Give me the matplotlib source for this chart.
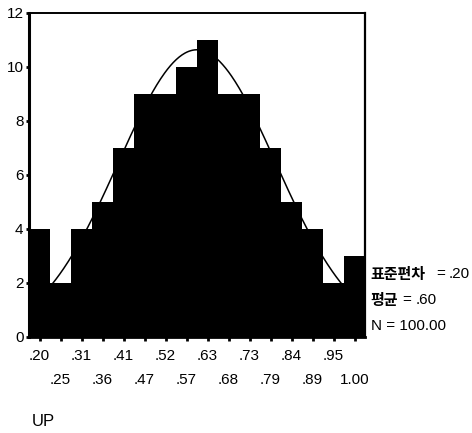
import numpy as np
import matplotlib
matplotlib.use("Agg")
import matplotlib.pyplot as plt

# Data
bin_labels = ['.20', '.25', '.31', '.36', '.41', '.47', '.52', '.57',
              '.63', '.68', '.73', '.79', '.84', '.89', '.95', '1.00']
counts = [4, 2, 4, 5, 7, 9, 9, 10, 11, 9, 9, 7, 5, 4, 2, 3]
x_min, x_max = 0.20, 1.00
mean_val, sd_val, n_val = 0.60, 0.20, 100
y_ticks = [0, 2, 4, 6, 8, 10, 12]
stat_korean = ['표준편차', '평균']
stat_values = ['.20', '.60']
n_text = 'N = 100.00'
x_label = 'UP'

latin = ['Liberation Sans', 'DejaVu Sans']
korean = ['Noto Sans CJK KR', 'DejaVu Sans']
plt.rcParams['font.family'] = latin

nb = len(counts)
width = (x_max - x_min) / (nb - 1)
centers = np.linspace(x_min, x_max, nb)

fig = plt.figure(figsize=(4.72, 4.33), dpi=100)
ax = fig.add_axes([29/472, 1-337/433, (365-29)/472, (337-13)/433])

ax.bar(centers, counts, width=width, color='black', edgecolor='none', linewidth=0, zorder=2)

xc = np.linspace(0.232, 0.968, 300)
yc = n_val * width / (sd_val * np.sqrt(2*np.pi)) * np.exp(-0.5*((xc-mean_val)/sd_val)**2)
ax.plot(xc, yc, color='black', lw=1.1, zorder=3)

ax.set_xlim(x_min - width/2, x_max + width/2)
ax.set_ylim(0, 12)

fs = 11
ax.set_xticks(centers[::2])
ax.set_xticklabels(bin_labels[::2], fontsize=fs)
ax.set_xticks(centers[1::2], minor=True)
ax.set_xticklabels(bin_labels[1::2], minor=True, fontsize=fs)
ax.tick_params(axis='x', which='major', direction='out', length=3, width=2, pad=5.5)
ax.tick_params(axis='x', which='minor', direction='out', length=3, width=2, pad=22.8)
ax.set_yticks(y_ticks)
ax.set_yticklabels([str(v) for v in y_ticks], fontsize=fs)
ax.tick_params(axis='y', direction='out', length=2, width=2, pad=2)

ax.spines['left'].set_linewidth(2.2)
ax.spines['bottom'].set_linewidth(2.0)
ax.spines['top'].set_linewidth(1.4)
ax.spines['right'].set_linewidth(1.6)

W, H = 472, 433
def px(x, y):
    return x / W, 1 - y / H

# stat lines: korean label, '=' x-pos, value x-pos, y
eq_x = [436, 402]
val_x = [449, 416]
ys = [274, 300]
for kor, val, ex, vx, yp in zip(stat_korean, stat_values, eq_x, val_x, ys):
    fig.text(*px(370, yp), kor, fontsize=10.8, va='center', ha='left',
             family=korean, weight='black')
    fig.text(*px(ex, yp), '=', fontsize=fs, va='center', ha='left', family=latin)
    fig.text(*px(vx, yp), val, fontsize=fs, va='center', ha='left', family=latin)
fig.text(*px(371, 326), n_text, fontsize=fs, va='center', ha='left', family=latin)

fig.text(*px(32, 422), x_label, fontsize=12, va='center', ha='left')

fig.savefig('out.png', dpi=100)
